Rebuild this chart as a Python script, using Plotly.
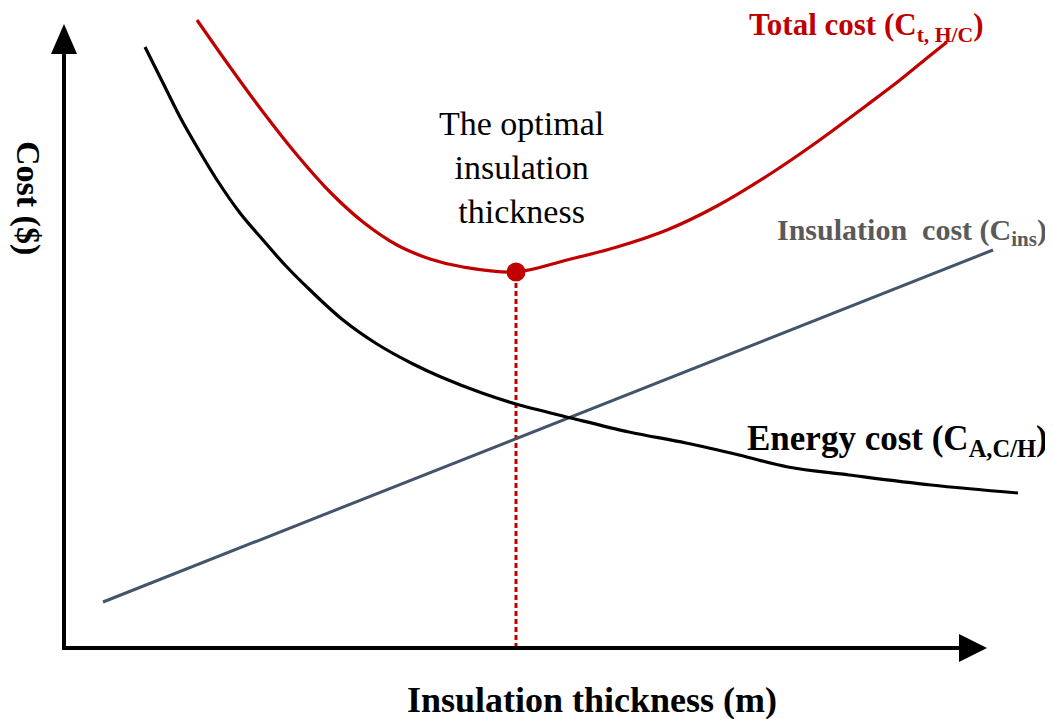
import plotly.graph_objects as go

# Conceptual cost curves (arbitrary units: thickness on x, cost on y)
total_x = [1.33, 1.66, 1.99, 2.33, 2.66, 2.99, 3.33, 3.66, 3.99, 4.52,
           5.03, 5.53, 6.03, 6.53, 7.03, 7.53, 8.03, 8.36, 8.63, 8.83]
total_y = [6.28, 5.81, 5.36, 4.93, 4.56, 4.26, 4.03, 3.89, 3.81, 3.76,
           3.88, 4.01, 4.18, 4.42, 4.72, 5.06, 5.43, 5.68, 5.90, 6.06]

energy_x = [0.81, 0.99, 1.16, 1.33, 1.53, 1.76, 1.99, 2.21, 2.46, 2.79, 3.13, 3.49,
            3.77, 4.18, 4.52, 5.07, 5.65, 6.22, 6.75, 7.24, 7.85, 8.67, 9.54]
energy_y = [6.01, 5.65, 5.31, 5.01, 4.68, 4.35, 4.08, 3.83, 3.58, 3.28, 3.04, 2.84,
            2.71, 2.55, 2.44, 2.30, 2.16, 2.05, 1.93, 1.81, 1.73, 1.63, 1.55]

ins_x = [0.39, 9.29]
ins_y = [0.46, 3.98]

opt_x = 4.52
opt_y = 3.76

RED = "#C00000"
SLATE = "#44546A"
FONT = "Liberation Serif"

fig = go.Figure()

# optimal thickness drop line
fig.add_trace(go.Scatter(x=[opt_x, opt_x], y=[0, opt_y], mode="lines",
                         line=dict(color=RED, width=3, dash="5px,3px")))
fig.add_trace(go.Scatter(x=ins_x, y=ins_y, mode="lines",
                         line=dict(color=SLATE, width=3)))
fig.add_trace(go.Scatter(x=energy_x, y=energy_y, mode="lines", line_shape="spline",
                         line=dict(color="black", width=3.2)))
fig.add_trace(go.Scatter(x=total_x, y=total_y, mode="lines", line_shape="spline",
                         line=dict(color=RED, width=3.2)))
fig.add_trace(go.Scatter(x=[opt_x], y=[opt_y], mode="markers",
                         marker=dict(color=RED, size=19)))

# axes drawn as arrows
axis_line = dict(color="black", width=4)
fig.add_shape(type="line", x0=0, y0=0, x1=0, y1=5.96, line=axis_line)
fig.add_shape(type="line", x0=-0.02, y0=0, x1=8.96, y1=0, line=axis_line)
fig.add_shape(type="path", path="M -0.13,5.94 L 0,6.24 L 0.13,5.94 Z",
              fillcolor="black", line=dict(width=0))
fig.add_shape(type="path", path="M 8.95,0.14 L 9.23,0 L 8.95,-0.14 Z",
              fillcolor="black", line=dict(width=0))

fig.add_annotation(x=6.83, y=6.21, xanchor="left", yanchor="middle", showarrow=False,
                   text="<b>Total cost (C<sub>t, H/C</sub>)</b>",
                   font=dict(family=FONT, size=31, color=RED))
fig.add_annotation(x=4.57, y=4.81, xanchor="center", yanchor="middle", showarrow=False,
                   text="The optimal<br>insulation<br>thickness",
                   font=dict(family=FONT, size=34, color="black"))
fig.add_annotation(x=7.11, y=4.16, xanchor="left", yanchor="middle", showarrow=False,
                   text="<b>Insulation  cost (C<sub>ins</sub>)</b>",
                   font=dict(family=FONT, size=30, color="#5a5a5a"))
fig.add_annotation(x=6.81, y=2.08, xanchor="left", yanchor="middle", showarrow=False,
                   text="<b>Energy cost (C<sub>A,C/H</sub>)</b>",
                   font=dict(family=FONT, size=35, color="black"))
fig.add_annotation(x=-0.36, y=4.50, xanchor="center", yanchor="middle", showarrow=False,
                   text="<b>Cost ($)</b>", textangle=90,
                   font=dict(family=FONT, size=34, color="black"))
fig.add_annotation(x=5.28, y=-0.52, xanchor="center", yanchor="middle", showarrow=False,
                   text="<b>Insulation thickness (m)</b>",
                   font=dict(family=FONT, size=36, color="black"))

# page body has an 8px margin, so the figure is 16px smaller than the window
fig.update_layout(
    width=1045,
    height=711,
    autosize=False,
    margin=dict(l=0, r=0, t=0, b=0),
    showlegend=False,
    plot_bgcolor="white",
    paper_bgcolor="white",
)
fig.update_xaxes(range=[-0.56, 9.89], visible=False, fixedrange=True)
fig.update_yaxes(range=[-0.71, 6.40], visible=False, fixedrange=True)

fig.write_html("out.html")
